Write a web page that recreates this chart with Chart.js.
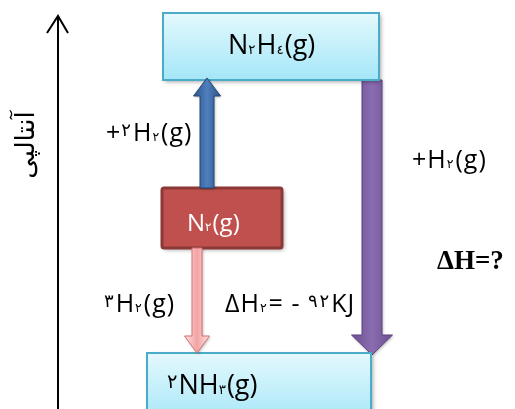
<!DOCTYPE html>
<html>
<head>
<meta charset="utf-8">
<script src="https://cdn.jsdelivr.net/npm/chart.js@4/dist/chart.umd.min.js"></script>
<style>
  html, body { margin: 0; padding: 0; background: #fff; }
  #wrap { width: 515px; height: 409px; }
</style>
</head>
<body>
<div id="wrap"><canvas id="myChart"></canvas></div>
<script>
// سطوح انرژی (واحد محور = پیکسل نمودار)
// ^ = ضریب (بالا)  _ = زیروند (پایین)
const species = ['N_۲H_٤(g)', 'N_۲(g)', '^۲NH_۳(g)'];
const levelTop = [13, 188, 353];
const levelBottom = [80, 248, 425];
const boxLeft = [163, 162, 147];
const boxRight = [379, 282, 371];
const textX = [228, 187, 167];
const textY = [54, 231, 394];
const textSize = [27, 24, 27];

// پیکان ها: بالا (N2 -> N2H4)، پایین (N2 -> 2NH3)، پایین (N2H4 -> 2NH3)
const arrowX = [207, 197, 372];
const arrowFrom = [188, 248, 80];
const arrowTo = [78, 353, 355];

// برچسب ها
const labels = ['+^۲H_۲(g)', '^۳H_۲(g)', 'ΔH_۲= - ^۹^۲KJ', '+H_۲(g)', 'ΔH=?'];
const labelX = [106, 104, 225, 412, 437];
const labelY = [141, 312, 312, 168, 269];

const axisTitle = 'آنتالپی';

const FONT = '"Open Sans", "DejaVu Sans", sans-serif';

const boxStyles = [
  { top: '#e4f9fd', bottom: '#a4e6f8', border: '#4aacc6', text: '#000', lw: 2, radius: 0 },
  { top: '#c0504d', bottom: '#c0504d', border: '#8c3836', text: '#fff', lw: 3, radius: 2 },
  { top: '#e4f9fd', bottom: '#a4e6f8', border: '#4aacc6', text: '#000', lw: 2, radius: 0 }
];
const arrowStyles = [
  { shaft: 14, head: 27, headLen: 18, c1: '#2b5389', c2: '#4f7fbd', border: '#264670' },
  { shaft: 10, head: 25, headLen: 17, c1: '#fbe3e3', c2: '#f3a3a3', border: '#d9706e' },
  { shaft: 20, head: 41, headLen: 20, c1: '#6c4f90', c2: '#8a6db0', border: '#5c4580' }
];

// متن با ضریب و زیروند
function drawRich(ctx, str, x, y, size, color, gap) {
  ctx.save();
  ctx.fillStyle = color;
  ctx.textAlign = 'left';
  ctx.textBaseline = 'alphabetic';
  let cx = x;
  for (let k = 0; k < str.length; k++) {
    let ch = str[k], fs = size, dy = 0;
    if (ch === '^') { ch = str[++k]; fs = size * 0.72; dy = -size * 0.22; }
    else if (ch === '_') { ch = str[++k]; fs = size * 0.5; dy = 0; }
    ctx.font = fs.toFixed(1) + 'px ' + FONT;
    ctx.fillText(ch, cx, y + dy);
    cx += ctx.measureText(ch).width + (fs < size ? 1 : 0) + gap;
  }
  ctx.restore();
}

function drawArrow(ctx, xs, ys, i) {
  const st = arrowStyles[i];
  const x = xs.getPixelForValue(arrowX[i]);
  const y0 = ys.getPixelForValue(arrowFrom[i]);
  const y1 = ys.getPixelForValue(arrowTo[i]);
  const dir = y1 < y0 ? -1 : 1;
  const hb = y1 - dir * st.headLen;
  const hs = st.shaft / 2, hh = st.head / 2;
  ctx.save();
  ctx.shadowColor = 'rgba(0,0,0,0.3)';
  ctx.shadowBlur = 3;
  ctx.shadowOffsetX = 1;
  ctx.shadowOffsetY = 1;
  const g = ctx.createLinearGradient(x - hh, 0, x + hh, 0);
  g.addColorStop(0, st.c1);
  g.addColorStop(0.5, st.c2);
  g.addColorStop(1, st.c1);
  ctx.beginPath();
  ctx.moveTo(x - hs, y0);
  ctx.lineTo(x - hs, hb);
  ctx.lineTo(x - hh, hb);
  ctx.lineTo(x, y1);
  ctx.lineTo(x + hh, hb);
  ctx.lineTo(x + hs, hb);
  ctx.lineTo(x + hs, y0);
  ctx.closePath();
  ctx.fillStyle = g;
  ctx.fill();
  ctx.shadowColor = 'transparent';
  ctx.lineWidth = 1;
  ctx.strokeStyle = st.border;
  ctx.stroke();
  ctx.restore();
}

function drawBox(ctx, xs, ys, i) {
  const st = boxStyles[i];
  const l = xs.getPixelForValue(boxLeft[i]);
  const r = xs.getPixelForValue(boxRight[i]);
  const t = ys.getPixelForValue(levelTop[i]);
  const b = ys.getPixelForValue(levelBottom[i]);
  ctx.save();
  ctx.shadowColor = 'rgba(0,0,0,0.35)';
  ctx.shadowBlur = 4;
  ctx.shadowOffsetX = 2;
  ctx.shadowOffsetY = 2;
  const g = ctx.createLinearGradient(0, t, 0, b);
  g.addColorStop(0, st.top);
  g.addColorStop(1, st.bottom);
  ctx.beginPath();
  ctx.roundRect(l, t, r - l, b - t, st.radius);
  ctx.fillStyle = g;
  ctx.fill();
  ctx.shadowColor = 'transparent';
  ctx.lineWidth = st.lw;
  ctx.strokeStyle = st.border;
  ctx.stroke();
  ctx.restore();
  drawRich(ctx, species[i], xs.getPixelForValue(textX[i]), ys.getPixelForValue(textY[i]), textSize[i], st.text, 0);
}

const diagramPlugin = {
  id: 'enthalpyDiagram',
  afterDatasetsDraw(chart) {
    const ctx = chart.ctx;
    const xs = chart.scales.x, ys = chart.scales.y;
    ctx.save();
    ctx.direction = 'ltr';

    // محور آنتالپی
    const ax = xs.getPixelForValue(58);
    ctx.strokeStyle = '#000';
    ctx.lineWidth = 2;
    ctx.beginPath();
    ctx.moveTo(ax, ys.getPixelForValue(409));
    ctx.lineTo(ax, ys.getPixelForValue(16));
    ctx.stroke();
    ctx.beginPath();
    ctx.moveTo(xs.getPixelForValue(47), ys.getPixelForValue(33));
    ctx.lineTo(ax, ys.getPixelForValue(16));
    ctx.lineTo(xs.getPixelForValue(68), ys.getPixelForValue(33));
    ctx.stroke();

    ctx.save();
    ctx.translate(xs.getPixelForValue(27), ys.getPixelForValue(145));
    ctx.rotate(-Math.PI / 2);
    ctx.font = '26px ' + FONT;
    ctx.fillStyle = '#000';
    ctx.textAlign = 'center';
    ctx.textBaseline = 'middle';
    ctx.direction = 'rtl';
    ctx.fillText(axisTitle, 0, 0);
    ctx.restore();

    drawArrow(ctx, xs, ys, 2);
    for (let i = 0; i < species.length; i++) drawBox(ctx, xs, ys, i);
    drawArrow(ctx, xs, ys, 0);
    drawArrow(ctx, xs, ys, 1);

    labels.forEach((txt, i) => {
      const px = xs.getPixelForValue(labelX[i]);
      const py = ys.getPixelForValue(labelY[i]);
      if (i === 4) {
        ctx.font = 'bold 27px "Liberation Serif", serif';
        ctx.fillStyle = '#000';
        ctx.textAlign = 'left';
        ctx.textBaseline = 'alphabetic';
        ctx.fillText(txt, px, py);
      } else {
        drawRich(ctx, txt, px, py, 25, '#000', 1);
      }
    });
    ctx.restore();
  }
};

const ctx = document.getElementById('myChart').getContext('2d');
new Chart(ctx, {
  type: 'scatter',
  data: {
    datasets: [{
      label: 'levels',
      data: levelTop.map((v, i) => ({ x: (boxLeft[i] + boxRight[i]) / 2, y: v })),
      pointRadius: 0,
      showLine: false
    }]
  },
  options: {
    responsive: true,
    maintainAspectRatio: false,
    animation: false,
    layout: { padding: 0 },
    scales: {
      x: { type: 'linear', min: 0, max: 515, display: false },
      y: { type: 'linear', min: 0, max: 409, reverse: true, display: false }
    },
    plugins: {
      legend: { display: false },
      tooltip: { enabled: false }
    }
  },
  plugins: [diagramPlugin]
});
</script>
</body>
</html>
